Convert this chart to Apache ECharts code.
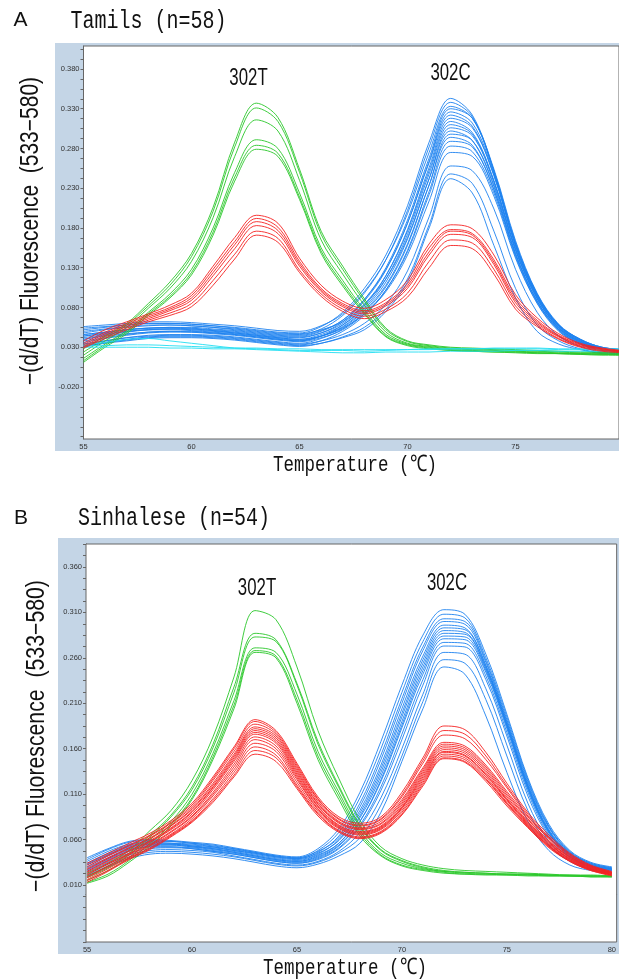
<!DOCTYPE html>
<html>
<head>
<meta charset="utf-8">
<script src="https://cdn.jsdelivr.net/npm/echarts@6/dist/echarts.min.js"></script>
<style>
  html, body { margin: 0; padding: 0; background: #fff; }
  #chart { width: 619px; height: 979px; }
</style>
</head>
<body>
<div id="chart"></div>
<script>
// temperatures (°C) shared by every curve
const temps = [55, 56, 57, 58, 59, 60, 61, 62, 63, 64, 65, 66, 67, 68, 69, 70, 71, 72, 73, 74, 75, 76, 77, 78, 79, 80];

// y tick labels
const yTicksA = [-0.02, 0.03, 0.08, 0.13, 0.18, 0.23, 0.28, 0.33, 0.38];
const yTicksB = [0.01, 0.06, 0.11, 0.16, 0.21, 0.26, 0.31, 0.36];
const xTicks = [55, 60, 65, 70, 75, 80];

// ---- panel A: Tamils, values x1000 ----
const greenA = [
  [28, 44, 60, 85, 112, 148, 206, 288, 337, 319, 254, 176, 132, 91, 54, 38, 33, 30, 29, 28, 27, 26, 25, 24, 24, 23],
  [24, 41, 58, 82, 108, 144, 201, 282, 331, 314, 250, 172, 128, 88, 52, 37, 32, 29, 28, 27, 26, 25, 24, 23, 23, 22],
  [20, 38, 55, 79, 104, 138, 193, 270, 316, 302, 240, 165, 122, 83, 49, 35, 31, 28, 27, 26, 25, 24, 23, 22, 22, 21],
  [16, 34, 51, 74, 97, 128, 180, 250, 291, 280, 224, 155, 114, 77, 46, 34, 30, 27, 26, 25, 24, 23, 22, 22, 21, 21],
  [13, 32, 49, 72, 94, 124, 175, 244, 284, 274, 219, 151, 110, 74, 44, 33, 29, 26, 25, 24, 24, 23, 22, 21, 21, 20],
  [11, 30, 47, 70, 92, 121, 171, 239, 279, 270, 216, 148, 107, 72, 43, 32, 28, 26, 25, 24, 23, 22, 22, 21, 20, 20]
];
const redA = [
  [38, 52, 62, 72, 83, 98, 132, 168, 196, 186, 142, 108, 88, 79, 90, 114, 160, 184, 179, 146, 96, 67, 47, 35, 29, 26],
  [35, 49, 60, 70, 80, 95, 128, 163, 192, 181, 138, 104, 85, 76, 86, 110, 155, 178, 173, 140, 92, 64, 45, 34, 28, 25],
  [33, 47, 58, 68, 78, 92, 124, 159, 188, 177, 135, 102, 83, 74, 84, 107, 150, 176, 171, 137, 89, 62, 44, 33, 28, 25],
  [31, 45, 56, 66, 76, 89, 120, 154, 183, 173, 132, 100, 81, 72, 82, 104, 146, 172, 168, 134, 86, 60, 43, 32, 27, 24],
  [30, 43, 54, 64, 73, 85, 114, 147, 176, 167, 127, 97, 78, 69, 78, 98, 138, 165, 161, 128, 82, 58, 41, 31, 26, 24],
  [29, 41, 52, 62, 70, 81, 108, 141, 171, 162, 124, 94, 75, 66, 75, 93, 130, 158, 154, 122, 78, 56, 40, 30, 25, 23]
];
const blueA = [
  [52, 55, 58, 60, 60, 59, 57, 55, 52, 49, 48, 56, 74, 104, 146, 208, 288, 343, 322, 252, 160, 96, 58, 40, 30, 27],
  [48, 52, 55, 57, 58, 57, 55, 53, 50, 47, 46, 53, 70, 98, 140, 202, 282, 338, 320, 250, 158, 94, 57, 39, 29, 27],
  [56, 58, 60, 62, 62, 61, 59, 57, 54, 51, 50, 57, 72, 100, 140, 198, 275, 333, 318, 252, 162, 97, 58, 40, 30, 27],
  [44, 48, 52, 54, 55, 55, 53, 51, 48, 45, 44, 50, 64, 90, 130, 190, 268, 330, 318, 254, 164, 98, 59, 40, 30, 27],
  [40, 45, 49, 52, 53, 53, 51, 49, 46, 43, 42, 48, 62, 88, 127, 186, 264, 326, 312, 248, 158, 94, 56, 38, 29, 26],
  [50, 53, 56, 58, 58, 57, 55, 52, 49, 46, 45, 51, 64, 90, 128, 186, 262, 322, 308, 246, 158, 95, 57, 39, 29, 27],
  [36, 41, 45, 48, 49, 49, 48, 46, 43, 40, 38, 44, 58, 82, 120, 178, 256, 318, 306, 246, 160, 96, 57, 38, 28, 26],
  [46, 49, 52, 54, 55, 54, 52, 50, 47, 44, 43, 48, 60, 84, 120, 176, 252, 314, 300, 240, 154, 92, 55, 37, 28, 26],
  [42, 46, 50, 52, 53, 52, 50, 48, 45, 42, 40, 46, 58, 80, 116, 172, 248, 310, 298, 238, 152, 91, 54, 37, 28, 26],
  [38, 42, 46, 49, 50, 50, 48, 46, 43, 40, 38, 44, 56, 78, 112, 166, 242, 306, 296, 238, 154, 92, 55, 37, 28, 25],
  [54, 56, 58, 60, 60, 59, 57, 54, 51, 48, 47, 52, 62, 84, 116, 168, 242, 302, 290, 232, 148, 88, 53, 36, 27, 25],
  [34, 38, 42, 45, 46, 46, 45, 43, 40, 37, 35, 41, 53, 74, 106, 158, 234, 298, 290, 234, 152, 91, 54, 36, 27, 25],
  [44, 47, 50, 52, 52, 51, 49, 47, 44, 41, 39, 44, 55, 76, 108, 160, 234, 294, 284, 228, 146, 88, 52, 35, 27, 25],
  [31, 36, 40, 43, 44, 44, 43, 41, 38, 35, 33, 38, 50, 70, 102, 152, 226, 289, 282, 228, 148, 88, 52, 35, 26, 24],
  [40, 44, 47, 49, 50, 49, 47, 45, 42, 39, 37, 42, 52, 72, 102, 150, 222, 283, 276, 224, 144, 86, 51, 34, 26, 24],
  [46, 49, 52, 54, 54, 53, 51, 48, 45, 42, 40, 44, 54, 72, 100, 146, 214, 275, 270, 220, 142, 85, 50, 34, 26, 24],
  [34, 38, 42, 44, 45, 45, 44, 42, 39, 36, 34, 38, 46, 60, 84, 126, 194, 258, 252, 204, 128, 74, 44, 31, 24, 23],
  [30, 35, 38, 41, 42, 42, 41, 39, 36, 33, 31, 35, 43, 55, 78, 116, 184, 248, 236, 176, 104, 58, 38, 28, 23, 22],
  [32, 36, 39, 42, 43, 43, 42, 40, 37, 34, 32, 35, 42, 52, 75, 112, 180, 242, 224, 158, 92, 50, 34, 27, 22, 21]
];
const cyanA = [
  [33, 36, 40, 41, 38, 35, 32, 29, 28, 27, 26, 26, 26, 25, 26, 27, 28, 28, 28, 29, 29, 29, 28, 28, 28, 28],
  [32, 32, 33, 33, 32, 31, 30, 29, 29, 28, 28, 27, 27, 27, 27, 27, 27, 28, 28, 28, 28, 28, 27, 27, 27, 27],
  [30, 30, 30, 30, 29, 29, 28, 28, 27, 26, 25, 24, 23, 23, 24, 24, 24, 25, 25, 25, 26, 26, 25, 25, 25, 25]
];

// ---- panel B: Sinhalese, values x1000 ----
const greenB = [
  [23, 34, 48, 70, 92, 125, 173, 239, 312, 302, 250, 180, 127, 81, 52, 39, 32, 28, 26, 25, 24, 23, 22, 21, 21, 20],
  [20, 31, 45, 65, 87, 118, 165, 228, 287, 280, 232, 168, 119, 76, 49, 37, 30, 26, 24, 23, 22, 22, 21, 21, 20, 20],
  [18, 29, 43, 63, 85, 115, 161, 222, 283, 278, 230, 165, 117, 74, 48, 36, 29, 25, 24, 23, 22, 22, 21, 20, 20, 20],
  [15, 26, 40, 60, 80, 110, 155, 213, 271, 266, 220, 157, 112, 70, 45, 34, 28, 25, 23, 22, 22, 21, 21, 20, 20, 19],
  [13, 22, 37, 56, 77, 106, 151, 208, 268, 262, 214, 152, 108, 67, 43, 32, 27, 24, 22, 22, 21, 21, 20, 20, 19, 19],
  [12, 20, 35, 53, 75, 104, 148, 204, 266, 260, 210, 148, 104, 64, 42, 31, 26, 23, 22, 21, 21, 20, 20, 20, 19, 19]
];
const redB = [
  [34, 45, 56, 67, 81, 100, 129, 162, 192, 180, 144, 107, 85, 78, 85, 112, 150, 185, 181, 156, 122, 90, 65, 45, 32, 25],
  [32, 43, 54, 65, 79, 98, 127, 160, 190, 178, 142, 105, 83, 76, 83, 109, 147, 180, 176, 152, 119, 88, 63, 44, 31, 24],
  [30, 42, 53, 64, 78, 96, 125, 157, 187, 176, 140, 104, 82, 75, 82, 107, 144, 175, 171, 148, 117, 86, 62, 43, 31, 24],
  [28, 40, 51, 62, 76, 94, 122, 154, 184, 174, 138, 102, 80, 73, 80, 104, 139, 167, 163, 142, 113, 85, 61, 42, 30, 24],
  [27, 39, 50, 61, 75, 93, 120, 152, 182, 172, 136, 100, 79, 72, 78, 102, 137, 165, 161, 140, 111, 83, 59, 41, 30, 23],
  [25, 37, 48, 59, 73, 91, 118, 150, 180, 170, 134, 99, 78, 71, 77, 100, 135, 163, 159, 138, 109, 82, 58, 41, 29, 23],
  [24, 36, 47, 58, 72, 90, 117, 148, 178, 168, 132, 97, 76, 69, 75, 98, 133, 161, 157, 136, 107, 80, 57, 40, 29, 23],
  [22, 34, 45, 57, 71, 88, 115, 146, 176, 166, 130, 96, 75, 68, 74, 96, 131, 159, 155, 134, 105, 79, 56, 39, 28, 22],
  [21, 33, 44, 55, 69, 86, 112, 143, 173, 163, 128, 94, 74, 67, 73, 95, 129, 157, 153, 132, 104, 78, 55, 39, 28, 22],
  [19, 31, 43, 54, 68, 85, 110, 140, 170, 160, 126, 93, 73, 66, 72, 94, 127, 156, 152, 131, 103, 77, 54, 38, 27, 22],
  [18, 30, 41, 53, 66, 83, 108, 137, 166, 157, 123, 91, 72, 65, 71, 92, 125, 154, 150, 129, 101, 76, 53, 37, 27, 21],
  [16, 28, 40, 51, 65, 81, 105, 134, 162, 153, 120, 89, 70, 63, 69, 90, 123, 152, 148, 127, 100, 75, 53, 37, 27, 21],
  [15, 26, 39, 50, 64, 80, 103, 131, 158, 150, 118, 88, 69, 62, 68, 88, 121, 150, 146, 126, 99, 74, 52, 36, 26, 21],
  [13, 25, 38, 49, 63, 79, 101, 129, 154, 146, 116, 86, 68, 61, 67, 87, 119, 149, 145, 124, 97, 73, 51, 36, 26, 20]
];
const blueB = [
  [40, 50, 58, 60, 59, 57, 55, 51, 47, 43, 41, 50, 72, 112, 168, 230, 285, 313, 308, 264, 198, 128, 77, 48, 35, 30],
  [36, 47, 55, 58, 58, 56, 53, 50, 46, 42, 40, 48, 68, 106, 160, 222, 278, 308, 304, 260, 195, 126, 75, 47, 34, 29],
  [33, 44, 53, 56, 56, 55, 52, 48, 45, 41, 39, 46, 64, 100, 153, 215, 272, 303, 300, 257, 192, 124, 74, 46, 34, 29],
  [38, 49, 57, 59, 58, 56, 54, 50, 46, 42, 40, 47, 62, 96, 148, 210, 268, 300, 297, 255, 190, 122, 73, 46, 33, 28],
  [30, 42, 51, 55, 55, 53, 51, 48, 44, 40, 38, 44, 60, 92, 142, 204, 262, 296, 293, 252, 188, 120, 71, 45, 33, 28],
  [34, 45, 54, 57, 56, 54, 52, 49, 45, 41, 39, 45, 59, 89, 138, 199, 258, 293, 291, 251, 187, 119, 70, 44, 32, 28],
  [27, 39, 49, 53, 54, 52, 50, 46, 42, 38, 36, 42, 56, 86, 134, 195, 254, 290, 288, 249, 186, 118, 69, 44, 32, 27],
  [32, 43, 52, 55, 55, 53, 50, 47, 43, 39, 37, 43, 56, 84, 130, 190, 250, 287, 286, 248, 186, 118, 69, 43, 31, 27],
  [25, 37, 47, 52, 52, 51, 48, 45, 41, 37, 35, 40, 53, 80, 126, 186, 246, 284, 283, 246, 184, 116, 68, 43, 31, 27],
  [29, 40, 50, 54, 54, 52, 49, 46, 42, 38, 36, 41, 54, 80, 124, 183, 242, 281, 280, 244, 182, 115, 67, 42, 31, 26],
  [23, 35, 45, 50, 51, 50, 47, 44, 40, 36, 34, 39, 51, 76, 118, 176, 236, 277, 276, 240, 178, 112, 65, 41, 30, 26],
  [26, 38, 48, 52, 52, 50, 47, 44, 40, 36, 34, 38, 50, 74, 114, 170, 230, 273, 272, 236, 174, 108, 63, 40, 29, 26],
  [21, 33, 43, 48, 49, 48, 46, 42, 38, 34, 32, 36, 47, 68, 106, 160, 220, 266, 264, 226, 164, 100, 58, 38, 28, 25],
  [20, 31, 41, 46, 47, 46, 44, 41, 37, 33, 31, 35, 45, 62, 98, 152, 212, 258, 254, 214, 152, 92, 54, 36, 27, 24],
  [19, 30, 39, 44, 45, 44, 42, 39, 35, 31, 29, 33, 42, 56, 90, 146, 204, 250, 242, 196, 134, 80, 48, 32, 26, 23]
];

const GREEN = '#2bc82b';
const RED = '#f52222';
const BLUE = '#1f83f0';
const CYAN = '#22def2';
const PANEL = '#c4d5e6';

function makeSeries(group, color, idx) {
  return group.map(vals => ({
    type: 'line',
    xAxisIndex: idx,
    yAxisIndex: idx,
    data: temps.map((t, i) => [t, vals[i] / 1000]),
    showSymbol: false,
    smooth: 0.35,
    silent: true,
    lineStyle: { color: color, width: 1, opacity: 0.9 }
  }));
}

function minorTicks(labels, lo, hi) {
  const out = [];
  const step = 0.0125;
  for (let v = labels[0]; v >= lo; v -= step) out.push(+v.toFixed(4));
  for (let v = labels[0] + step; v <= hi; v += step) out.push(+v.toFixed(4));
  return out;
}

const axisLabelStyle = { fontSize: 7.5, color: '#333', fontFamily: 'Liberation Sans' };

function xAxisFor(idx, min, max) {
  return {
    type: 'value', gridIndex: idx, min: min, max: max,
    axisLine: { show: true, lineStyle: { color: '#555', width: 1 } },
    axisTick: { show: false },
    splitLine: { show: false },
    axisLabel: Object.assign({ customValues: xTicks, margin: 4, formatter: v => String(v) }, axisLabelStyle)
  };
}

function yAxisFor(idx, min, max, labels) {
  return {
    type: 'value', gridIndex: idx, min: min, max: max,
    axisLine: { show: true, lineStyle: { color: '#555', width: 1 } },
    axisTick: { show: true, length: 3, lineStyle: { color: '#666' }, customValues: minorTicks(labels, min, max) },
    splitLine: { show: false },
    axisLabel: Object.assign({ customValues: labels, margin: 4, formatter: v => v.toFixed(3) }, axisLabelStyle)
  };
}

function label(text, x, y, size, family, opts) {
  return Object.assign({
    type: 'text', x: x, y: y, z: 100,
    style: { text: text, font: size + 'px ' + family, fill: '#111', align: 'center', verticalAlign: 'middle' }
  }, opts || {});
}

const chart = echarts.init(document.getElementById('chart'), null, { renderer: 'canvas' });

chart.setOption({
  animation: false,
  backgroundColor: '#fff',
  grid: [
    { left: 83.5, top: 46, width: 538, height: 393, show: true, backgroundColor: '#fff', borderColor: '#666', borderWidth: 1, z: 1 },
    { left: 86, top: 544, width: 536, height: 398, show: true, backgroundColor: '#fff', borderColor: '#666', borderWidth: 1, z: 1 }
  ],
  xAxis: [xAxisFor(0, 55, 79.79), xAxisFor(1, 54.95, 80.23)],
  yAxis: [yAxisFor(0, -0.0854, 0.4089, yTicksA), yAxisFor(1, -0.0527, 0.3853, yTicksB)],
  graphic: [
    // blue-grey frames behind the plots
    { type: 'rect', shape: { x: 55, y: 43, width: 570, height: 408 }, style: { fill: PANEL }, z: -10, silent: true },
    { type: 'rect', shape: { x: 58, y: 538, width: 570, height: 416 }, style: { fill: PANEL }, z: -10, silent: true },
    // panel letters and titles
    label('A', 20.5, 20.5, 21, '"Liberation Sans"'),
    label('Tamils (n=58)', 148.5, 21.5, 20, '"Liberation Mono"', { scaleY: 1.3 }),
    label('B', 21, 518, 21, '"Liberation Sans"'),
    label('Sinhalese (n=54)', 174, 518, 20, '"Liberation Mono"', { scaleY: 1.3 }),
    // peak annotations
    label('302T', 248.5, 78.5, 24, '"Liberation Sans"', { scaleX: 0.7 }),
    label('302C', 450.5, 73.5, 24, '"Liberation Sans"', { scaleX: 0.7 }),
    label('302T', 257, 588.5, 24, '"Liberation Sans"', { scaleX: 0.7 }),
    label('302C', 447, 583, 24, '"Liberation Sans"', { scaleX: 0.7 }),
    // axis titles
    label('\u2212(d/dT) Fluorescence  (533\u2212580)', 31, 231, 25, '"Liberation Sans"', { rotation: Math.PI / 2, scaleX: 0.84 }),
    label('\u2212(d/dT) Fluorescence  (533\u2212580)', 37, 736, 25, '"Liberation Sans"', { rotation: Math.PI / 2, scaleX: 0.85 }),
    label('Temperature (\u2103)', 355, 465, 17.5, '"Liberation Mono"', { scaleY: 1.3 }),
    label('Temperature (\u2103)', 345, 968, 17.5, '"Liberation Mono"', { scaleY: 1.3 })
  ],
  series: [].concat(
    makeSeries(blueA, BLUE, 0),
    makeSeries(greenA, GREEN, 0),
    makeSeries(cyanA, CYAN, 0),
    makeSeries(redA, RED, 0),
    makeSeries(blueB, BLUE, 1),
    makeSeries(greenB, GREEN, 1),
    makeSeries(redB, RED, 1)
  )
});
</script>
</body>
</html>
